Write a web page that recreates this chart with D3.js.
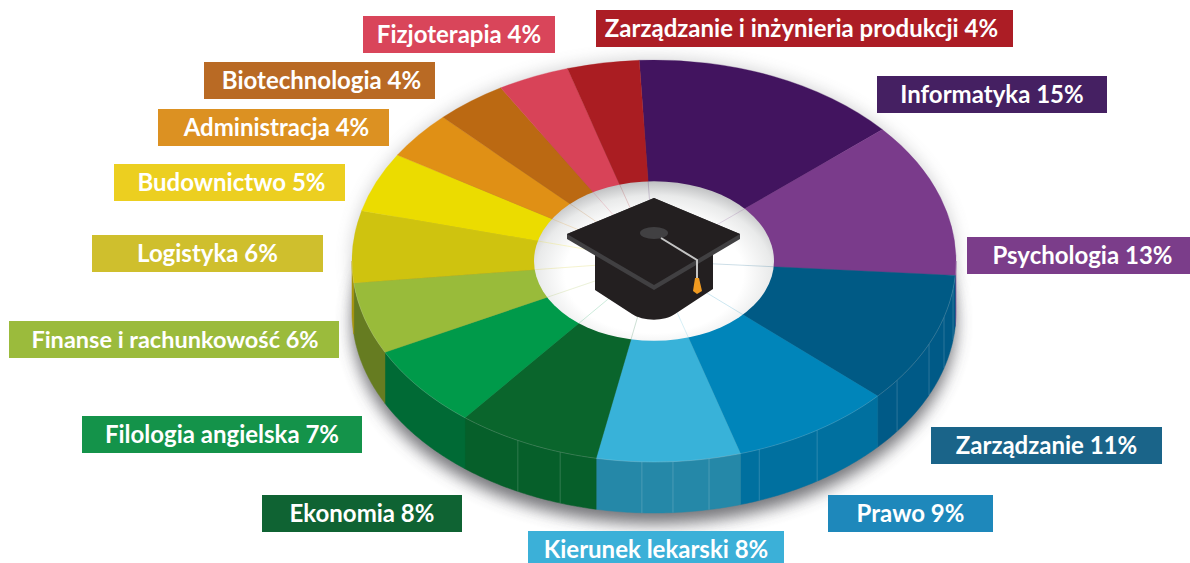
<!DOCTYPE html>
<html>
<head>
<meta charset="utf-8">
<script src="https://cdn.jsdelivr.net/npm/d3@7"></script>
<style>
html, body { margin: 0; padding: 0; background: #fff; overflow: hidden; }
svg { display: block; }
</style>
</head>
<body>
<script>
// values (they add up to 104, the slices are drawn from that)
var categories = ['Informatyka', 'Psychologia', 'Zarządzanie', 'Prawo', 'Kierunek lekarski', 'Ekonomia',
    'Filologia angielska', 'Finanse i rachunkowość', 'Logistyka', 'Budownictwo', 'Administracja',
    'Biotechnologia', 'Fizjoterapia', 'Zarządzanie i inżynieria produkcji'];
var percents = [15, 13, 11, 9, 8, 8, 7, 6, 6, 5, 4, 4, 4, 4];

var topColors = ['#42145f', '#7a3b8b', '#005a85', '#0085ba', '#38b2d9', '#0a652c', '#009a4a',
    '#99bb3a', '#cfc30f', '#ebdc00', '#e09015', '#bb6912', '#d84358', '#aa1d22'];
var wallColors = ['#42145f', '#7a3b8b', '#005a87', '#00709f', '#2588a8', '#065f2a', '#006a35',
    '#667c21', '#a89508', '#ebdc00', '#e09015', '#bb6912', '#d84358', '#aa1d22'];
var labelColors = ['#452062', '#7b3d8a', '#1a6489', '#1e88bb', '#3bb0d8', '#0f6333', '#14934a',
    '#9bbb3c', '#cfbf2d', '#eccf20', '#dc9122', '#b96a24', '#d9455a', '#ac1d25'];
// left, top, width of each label box
var labelBoxes = [[877, 76, 230], [967, 237, 223], [931, 427, 231], [828, 495, 165], [528, 531, 256], [262, 495, 200],
    [82, 416, 280], [9, 321, 330], [92, 235, 231], [114, 164, 231], [158, 109, 231], [204, 62, 231], [363, 16, 192], [596, 10, 417]];
// the text is not quite centred in some boxes
var labelTextDx = [0, 4, 0, 0, 0, 0, 0, 1, 0, 2, 3, 2, 0, -3];
// thin seams on the side wall, degrees clockwise from 12 o'clock
var facetDegrees = [98, 106.2, 114.4, 126.4, 147.3, 159.6, 169.5, 176.4, 182.3, 198.1, 206.8];

var width = 1190, height = 563;
var cx = 654, cy = 261, rx = 302, ry = 201, holeRx = 120, thick = 51;
var squash = ry / rx;

var svg = d3.select('body').append('svg')
    .attr('width', width)
    .attr('height', height);

var defs = svg.append('defs');
defs.append('filter').attr('id', 'blur').attr('x', '-10%').attr('y', '-10%').attr('width', '120%').attr('height', '120%')
    .append('feGaussianBlur').attr('stdDeviation', 8);

var holeGrad = defs.append('radialGradient').attr('id', 'holeShade')
    .attr('cx', 0.5).attr('cy', 0.58).attr('r', 0.6);
holeGrad.append('stop').attr('offset', '62%').attr('stop-color', '#fff');
holeGrad.append('stop').attr('offset', '82%').attr('stop-color', '#e9eaea');
holeGrad.append('stop').attr('offset', '100%').attr('stop-color', '#b4b5b7');

var pie = d3.pie()
    .value(function(d) { return d; })
    .sort(null)
    .startAngle(-2.8 * Math.PI / 180)
    .endAngle(357.2 * Math.PI / 180);
var slices = pie(percents);

// shadow under the disc
svg.append('ellipse')
    .attr('cx', cx).attr('cy', cy + thick + 10)
    .attr('rx', rx).attr('ry', ry + 1)
    .attr('fill', '#4a4a50')
    .attr('filter', 'url(#blur)')
    .attr('opacity', 0.75);
svg.append('ellipse')
    .attr('cx', cx).attr('cy', cy - 1)
    .attr('rx', rx + 1).attr('ry', ry + 1)
    .attr('fill', '#77777c')
    .attr('filter', 'url(#blur)')
    .attr('opacity', 0.3);

function px(a) { return cx + rx * Math.sin(a); }
function py(a) { return cy - ry * Math.cos(a); }

// only the front half of the wall shows
var wallArea = d3.area()
    .x(function(a) { return px(a); })
    .y0(function(a) { return py(a); })
    .y1(function(a) { return py(a) + thick; });

function wallAngles(d) {
    var a0 = Math.max(d.startAngle, Math.PI / 2);
    var a1 = Math.min(d.endAngle, 3 * Math.PI / 2);
    if (a1 <= a0) return [];
    var pts = d3.range(a0, a1, 0.01);
    pts.push(a1);
    return pts;
}

svg.append('g').selectAll('path')
    .data(slices)
    .join('path')
    .attr('d', function(d) { return wallArea(wallAngles(d)) || ''; })
    .attr('fill', function(d, i) { return wallColors[i]; })
    .attr('stroke', function(d, i) { return wallColors[i]; })
    .attr('stroke-width', 0.5);

svg.append('g').selectAll('line')
    .data(facetDegrees)
    .join('line')
    .attr('x1', function(d) { return px(d * Math.PI / 180); })
    .attr('x2', function(d) { return px(d * Math.PI / 180); })
    .attr('y1', function(d) { return py(d * Math.PI / 180); })
    .attr('y2', function(d) { return py(d * Math.PI / 180) + thick; })
    .attr('stroke', '#fff')
    .attr('stroke-opacity', 0.17)
    .attr('stroke-width', 1);

// top face
var face = svg.append('g')
    .attr('transform', 'translate(' + cx + ',' + cy + ') scale(1,' + squash + ')');
var arc = d3.arc().innerRadius(holeRx - 2).outerRadius(rx);

face.selectAll('path.slice')
    .data(slices)
    .join('path')
    .attr('class', 'slice')
    .attr('d', arc)
    .attr('fill', function(d, i) { return topColors[i]; })
    .attr('stroke', function(d, i) { return topColors[i]; })
    .attr('stroke-width', 0.4);

// pale line along the front rim
var rim = d3.line()
    .x(function(a) { return px(a); })
    .y(function(a) { return py(a); });
svg.append('g').selectAll('path')
    .data(slices)
    .join('path')
    .attr('d', function(d) { return rim(wallAngles(d)) || ''; })
    .attr('fill', 'none')
    .attr('stroke', '#fff')
    .attr('stroke-opacity', 0.2)
    .attr('stroke-width', 0.8);

// hole and the faint spokes running on from the slice borders
face.append('circle')
    .attr('r', holeRx)
    .attr('fill', 'url(#holeShade)');

var spoke = d3.lineRadial()
    .angle(function(p) { return p.a; })
    .radius(function(p) { return p.r; });
face.selectAll('path.spoke')
    .data(slices)
    .join('path')
    .attr('class', 'spoke')
    .attr('d', function(d) { return spoke([{ a: d.startAngle, r: holeRx }, { a: d.startAngle, r: 50 }]); })
    .attr('fill', 'none')
    .attr('stroke', function(d, i) { return topColors[i]; })
    .attr('stroke-opacity', 0.3)
    .attr('stroke-width', 0.8);

// graduation cap
var cap = svg.append('g');
cap.append('path')
    .attr('d', 'M595,252 L595,290 L632,314 C642,321 664,322 675,314 L713,289 L713,252 Z')
    .attr('fill', '#231f20');
cap.append('path')
    .attr('d', 'M567,234 L654,198 L740,234 L740,239 L654,290 L567,239 Z')
    .attr('fill', '#414042');
cap.append('path')
    .attr('d', 'M567,234 L654,198 L740,234 L654,285 Z')
    .attr('fill', '#231f20');
cap.append('ellipse')
    .attr('cx', 654).attr('cy', 233)
    .attr('rx', 14).attr('ry', 6)
    .attr('fill', '#414042');
cap.append('path')
    .attr('d', 'M661,238 L697,260 L697,279')
    .attr('fill', 'none')
    .attr('stroke', '#c4c4c4')
    .attr('stroke-width', 2);
cap.append('path')
    .attr('d', 'M695,278 L699,278 L702,291 L697,294 L693,291 Z')
    .attr('fill', '#f09a20');

// labels
var boxH = 37;
var labels = svg.append('g').selectAll('g')
    .data(categories)
    .join('g')
    .attr('transform', function(d, i) { return 'translate(' + labelBoxes[i][0] + ',' + labelBoxes[i][1] + ')'; });

labels.append('rect')
    .attr('width', function(d, i) { return labelBoxes[i][2]; })
    .attr('height', boxH)
    .attr('fill', function(d, i) { return labelColors[i]; });

labels.append('text')
    .attr('x', function(d, i) { return labelBoxes[i][2] / 2 + labelTextDx[i]; })
    .attr('y', 26.6)
    .attr('text-anchor', 'middle')
    .attr('fill', '#fff')
    .style('font-family', 'Lato, sans-serif')
    .style('font-weight', 700)
    .style('font-size', function(d, i) { return i === 7 ? '23.5px' : '24px'; })
    .text(function(d, i) { return d + ' ' + percents[i] + '%'; });
</script>
</body>
</html>
